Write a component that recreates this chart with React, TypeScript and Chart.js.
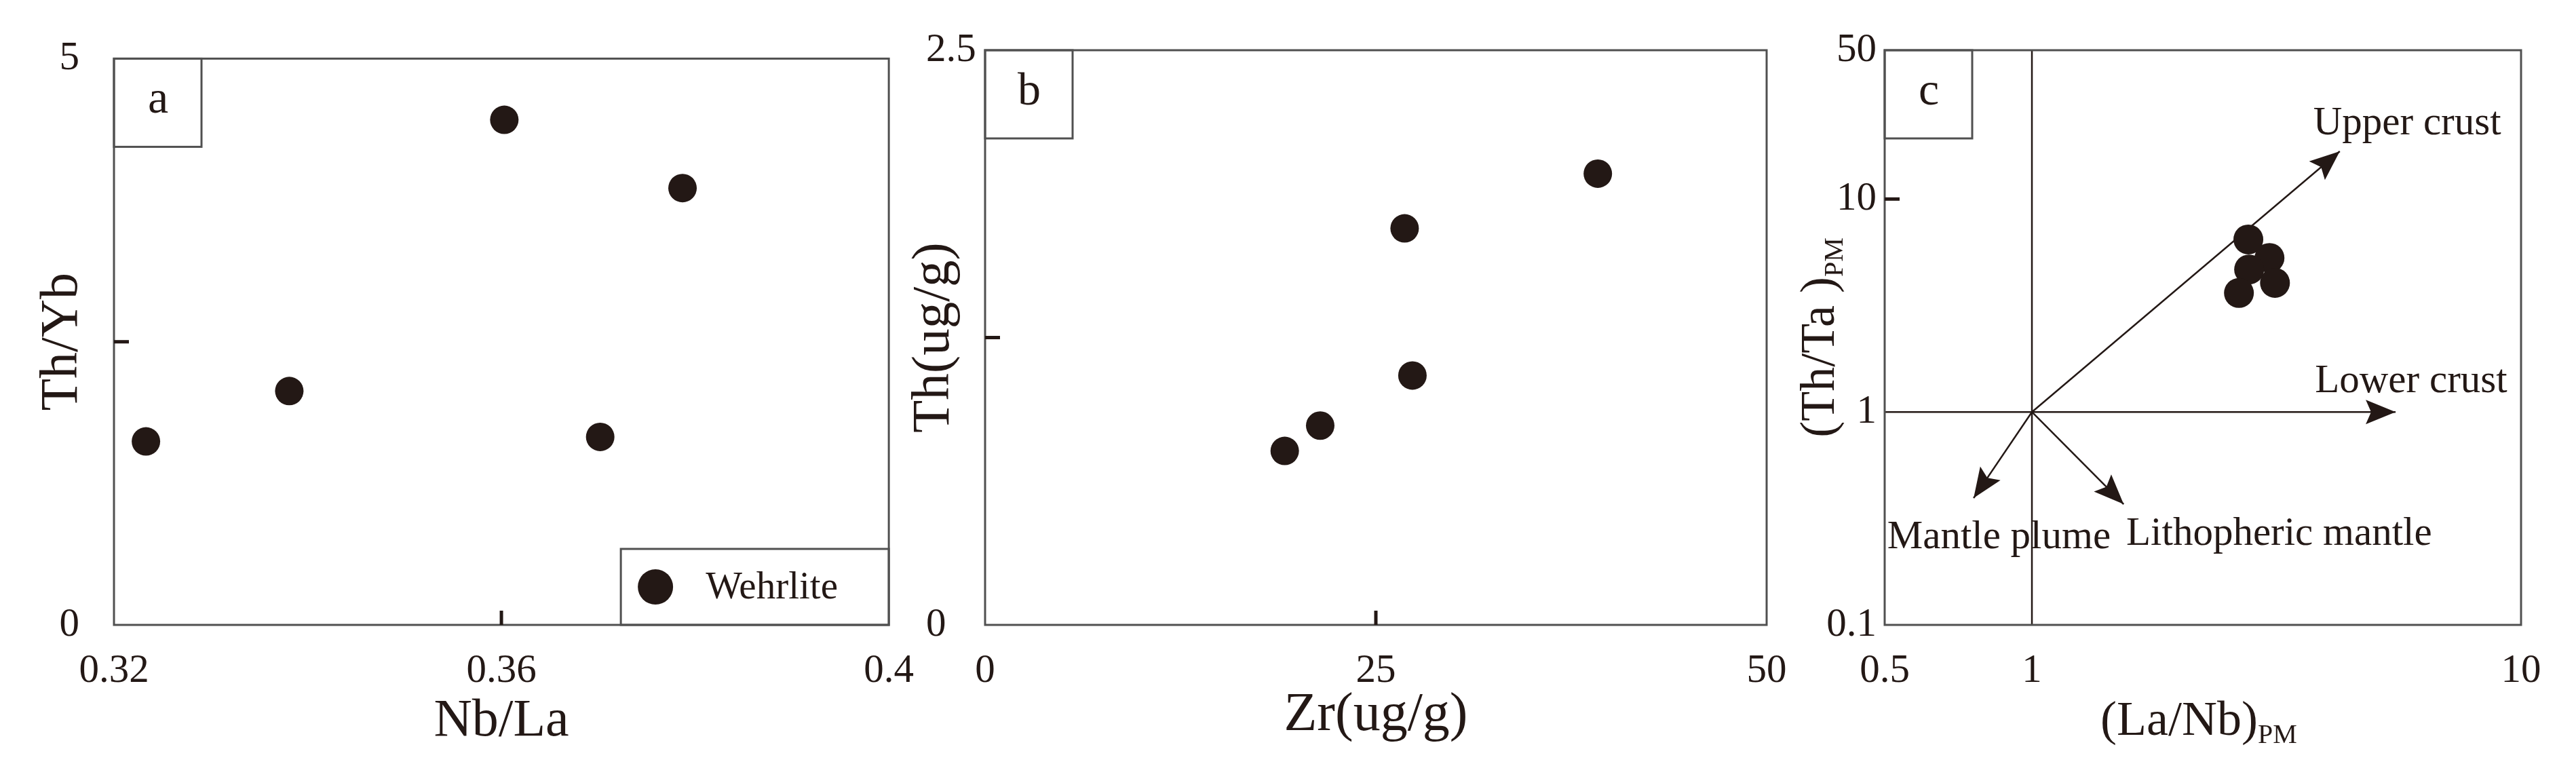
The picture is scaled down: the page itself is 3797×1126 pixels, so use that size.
import React, { useEffect, useRef } from 'react';
import { Chart, registerables } from 'chart.js';

Chart.register(...registerables);

const FONT = '"Liberation Serif", "Times New Roman", serif';
const INK = '#231815';
const FRAME = '#505050';

// ---------- Panel a : Nb/La vs Th/Yb ----------
const aNbLa = [0.3233, 0.3381, 0.3603, 0.3702, 0.3787];
const aThYb = [1.62, 2.065, 4.46, 1.66, 3.857];
const aXTicks = [0.32, 0.36, 0.4];
const aXLabels = ['0.32', '0.36', '0.4'];
const aYTicks = [0, 5];
const aYLabels = ['0', '5'];
const aInnerX = [0.36];
const aInnerY = [2.5];

// ---------- Panel b : Zr vs Th ----------
const bZr = [19.17, 21.44, 26.84, 27.34, 39.2];
const bTh = [0.757, 0.867, 1.725, 1.085, 1.963];
const bXTicks = [0, 25, 50];
const bXLabels = ['0', '25', '50'];
const bYTicks = [0, 2.5];
const bYLabels = ['0', '2.5'];
const bInnerX = [25];
const bInnerY = [1.25];

// ---------- Panel c : (La/Nb)PM vs (Th/Ta)PM ----------
const cLaNb = [2.77, 3.06, 2.78, 3.14, 2.65];
const cThTa = [6.46, 5.29, 4.67, 4.04, 3.62];
const cXTicks = [0.5, 1, 10];
const cXLabels = ['0.5', '1', '10'];
const cYTicks = [0.1, 1, 10, 50];
const cYLabels = ['0.1', '1', '10', '50'];
const cInnerY = [10];
const cOrigin = [1, 1];
const trendNames = ['Upper crust', 'Lower crust', 'Mantle plume', 'Lithopheric mantle'];
const trendEndX = [4.26, 5.54, 0.76, 1.54];
const trendEndY = [16.76, 1, 0.394, 0.369];
const trendLabelX = [3.76, 3.79, 0.506, 1.559];
const trendLabelY = [20.1, 1.24, 0.229, 0.238];

const SERIES_NAME = 'Wehrlite';

function font(size: number) {
  return `${size}px ${FONT}`;
}

function drawTitle(ctx: any, t: any, ca: any) {
  const x = t.relX === 'center' ? (ca.left + ca.right) / 2 + (t.dx || 0) : ca.left + t.relX;
  const y = t.relY === 'center' ? (ca.top + ca.bottom) / 2 + (t.dy || 0) : ca.bottom + t.relY;
  ctx.save();
  ctx.translate(x, y);
  if (t.rotate) ctx.rotate(-Math.PI / 2);
  ctx.fillStyle = INK;
  ctx.textBaseline = 'alphabetic';
  ctx.font = font(t.size);
  const w1 = ctx.measureText(t.text).width;
  let w2 = 0;
  if (t.sub) {
    ctx.font = font(t.subSize);
    w2 = ctx.measureText(t.sub).width;
  }
  const start = t.align === 'left' ? 0 : -(w1 + w2) / 2;
  ctx.textAlign = 'left';
  ctx.font = font(t.size);
  ctx.fillText(t.text, start, 0);
  if (t.sub) {
    ctx.font = font(t.subSize);
    ctx.fillText(t.sub, start + w1, t.subShift);
  }
  ctx.restore();
}

const decor = {
  id: 'decor',
  afterDraw(chart: any, _args: any, o: any) {
    const ctx = chart.ctx;
    const ca = chart.chartArea;
    const xs = chart.scales.x;
    const ys = chart.scales.y;
    ctx.save();

    // arrow heads on trend lines
    (o.arrows || []).forEach((idx: number) => {
      const pts = chart.getDatasetMeta(idx).data;
      const p0 = pts[pts.length - 2];
      const p1 = pts[pts.length - 1];
      const ang = Math.atan2(p1.y - p0.y, p1.x - p0.x);
      const L = 44;
      const W = 18;
      const c = Math.cos(ang);
      const s = Math.sin(ang);
      ctx.beginPath();
      ctx.moveTo(p1.x, p1.y);
      ctx.lineTo(p1.x - L * c - W * s, p1.y - L * s + W * c);
      ctx.lineTo(p1.x - L * c * 0.82, p1.y - L * s * 0.82);
      ctx.lineTo(p1.x - L * c + W * s, p1.y - L * s - W * c);
      ctx.closePath();
      ctx.fillStyle = INK;
      ctx.fill();
    });

    // frame
    ctx.strokeStyle = FRAME;
    ctx.lineWidth = 3;
    ctx.strokeRect(ca.left, ca.top, ca.right - ca.left, ca.bottom - ca.top);

    // inward tick marks
    ctx.strokeStyle = INK;
    ctx.lineWidth = 5;
    (o.innerX || []).forEach((v: number) => {
      const px = xs.getPixelForValue(v);
      ctx.beginPath();
      ctx.moveTo(px, ca.bottom);
      ctx.lineTo(px, ca.bottom - 21);
      ctx.stroke();
    });
    (o.innerY || []).forEach((v: number) => {
      const py = ys.getPixelForValue(v);
      ctx.beginPath();
      ctx.moveTo(ca.left, py);
      ctx.lineTo(ca.left + 22, py);
      ctx.stroke();
    });

    // panel letter box
    ctx.strokeStyle = FRAME;
    ctx.lineWidth = 3;
    ctx.strokeRect(ca.left, ca.top, 129, 130);
    ctx.fillStyle = INK;
    ctx.font = font(68);
    ctx.textAlign = 'center';
    ctx.textBaseline = 'middle';
    ctx.fillText(o.letter, ca.left + 65, ca.top + 62);

    // axis titles
    (o.titles || []).forEach((t: any) => drawTitle(ctx, t, ca));

    // text annotations at data coordinates
    if (o.notes) {
      ctx.fillStyle = INK;
      ctx.font = font(o.notes.size);
      ctx.textAlign = 'left';
      ctx.textBaseline = 'alphabetic';
      o.notes.names.forEach((n: string, i: number) => {
        ctx.fillText(n, xs.getPixelForValue(o.notes.xs[i]), ys.getPixelForValue(o.notes.ys[i]));
      });
    }

    // legend
    if (o.legend) {
      const ds = chart.data.datasets[0];
      const w = 395;
      const h = 112;
      const lx = ca.right - w;
      const ly = ca.bottom - h;
      ctx.strokeStyle = FRAME;
      ctx.lineWidth = 3;
      ctx.strokeRect(lx, ly, w, h);
      ctx.fillStyle = ds.backgroundColor;
      ctx.beginPath();
      ctx.arc(lx + 51, ly + 56, 26, 0, Math.PI * 2);
      ctx.fill();
      ctx.fillStyle = INK;
      ctx.font = font(57);
      ctx.textAlign = 'left';
      ctx.textBaseline = 'alphabetic';
      ctx.fillText(ds.label, lx + 125, ly + 73);
    }
    ctx.restore();
  },
};

function axis(type: string, min: number, max: number, ticks: number[], labels: string[], extra: any) {
  return {
    type,
    min,
    max,
    grid: { display: false, drawTicks: false },
    border: { display: false },
    ticks: {
      font: { family: FONT, size: 59 },
      color: INK,
      autoSkip: false,
      maxRotation: 0,
      minRotation: 0,
      padding: extra.padding,
      crossAlign: extra.crossAlign || 'near',
      callback: (_v: any, i: number) => labels[i],
    },
    afterBuildTicks: (s: any) => {
      s.ticks = ticks.map((v) => ({ value: v }));
    },
    afterFit: (s: any) => {
      if (extra.height !== undefined) s.height = extra.height;
      if (extra.width !== undefined) s.width = extra.width;
    },
  };
}

function baseOptions(padLeft: number, padRight: number, xAxis: any, yAxis: any, decorOpts: any) {
  return {
    responsive: false,
    animation: false,
    events: [],
    layout: { padding: { left: padLeft, top: 74, right: padRight, bottom: 0 } },
    plugins: {
      legend: { display: false },
      tooltip: { enabled: false },
      decor: decorOpts,
    },
    scales: { x: xAxis, y: yAxis },
  };
}

function pointsDataset(xv: number[], yv: number[], r: number) {
  return {
    label: SERIES_NAME,
    data: xv.map((x, i) => ({ x, y: yv[i] })),
    backgroundColor: INK,
    borderColor: INK,
    borderWidth: 0,
    pointRadius: r,
    pointHoverRadius: r,
  };
}

function lineDataset(pts: { x: number; y: number }[], width: number) {
  return {
    label: '',
    data: pts,
    showLine: true,
    borderColor: INK,
    borderWidth: width,
    pointRadius: 0,
    pointHoverRadius: 0,
    fill: false,
  };
}

const X_H = 205;

function configA(): any {
  return {
    type: 'scatter',
    data: { datasets: [pointsDataset(aNbLa, aThYb, 21)] },
    options: baseOptions(
      0,
      68,
      axis('linear', 0.32, 0.4, aXTicks, aXLabels, { padding: 33, height: X_H }),
      axis('linear', 0, 5, aYTicks, aYLabels, { padding: 51, width: 168 }),
      {
        letter: 'a',
        innerX: aInnerX,
        innerY: aInnerY,
        legend: true,
        titles: [
          { text: 'Nb/La', size: 78, relX: 'center', relY: 163 },
          { text: 'Th/Yb', size: 78, relX: -55, relY: 'center', rotate: true },
        ],
      }
    ),
    plugins: [decor],
  };
}

function configB(): any {
  return {
    type: 'scatter',
    data: { datasets: [pointsDataset(bZr, bTh, 21)] },
    options: baseOptions(
      45,
      76,
      axis('linear', 0, 50, bXTicks, bXLabels, { padding: 33, height: X_H }),
      axis('linear', 0, 2.5, bYTicks, bYLabels, { padding: 17, width: 87, crossAlign: 'far' }),
      {
        letter: 'b',
        innerX: bInnerX,
        innerY: bInnerY,
        titles: [
          { text: 'Zr(ug/g)', size: 80, relX: 'center', relY: 155 },
          { text: 'Th(ug/g)', size: 79, relX: -54, relY: 'center', rotate: true },
        ],
      }
    ),
    plugins: [decor],
  };
}

function configC(): any {
  const origin = { x: cOrigin[0], y: cOrigin[1] };
  const refLines = [
    lineDataset([{ x: 1, y: 0.1 }, { x: 1, y: 50 }], 2.5),
    lineDataset([{ x: 0.5, y: 1 }, origin], 2.5),
  ];
  const trends = trendNames.map((_n, i) => lineDataset([origin, { x: trendEndX[i], y: trendEndY[i] }], 2.5));
  const datasets = [pointsDataset(cLaNb, cThTa, 22), ...refLines, ...trends];
  return {
    type: 'scatter',
    data: { datasets },
    options: baseOptions(
      0,
      81,
      axis('logarithmic', 0.5, 10, cXTicks, cXLabels, { padding: 33, height: X_H }),
      axis('logarithmic', 0.1, 50, cYTicks, cYLabels, { padding: 12, width: 178 }),
      {
        letter: 'c',
        innerY: cInnerY,
        arrows: trends.map((_t, i) => 3 + i),
        notes: { names: trendNames, xs: trendLabelX, ys: trendLabelY, size: 59 },
        titles: [
          { text: '(La/Nb)', sub: 'PM', size: 72, subSize: 40, subShift: 12, relX: 318, relY: 162, align: 'left' },
          { text: '(Th/Ta )', sub: 'PM', size: 72, subSize: 40, subShift: 13, relX: -75, relY: 'center', rotate: true },
        ],
      }
    ),
    plugins: [decor],
  };
}

export default function App() {
  const ra = useRef<HTMLCanvasElement | null>(null);
  const rb = useRef<HTMLCanvasElement | null>(null);
  const rc = useRef<HTMLCanvasElement | null>(null);

  useEffect(() => {
    document.body.style.margin = '0';
    const charts = [
      new Chart(ra.current as HTMLCanvasElement, configA()),
      new Chart(rb.current as HTMLCanvasElement, configB()),
      new Chart(rc.current as HTMLCanvasElement, configC()),
    ];
    return () => charts.forEach((c) => c.destroy());
  }, []);

  const cs = (left: number, width: number): React.CSSProperties => ({
    position: 'absolute',
    left,
    top: 0,
    width,
    height: 1126,
  });

  return (
    <div style={{ position: 'relative', width: 3797, height: 1126, overflow: 'hidden', background: '#ffffff' }}>
      <canvas ref={ra} width={1380} height={1126} style={cs(0, 1380)} />
      <canvas ref={rb} width={1360} height={1126} style={cs(1320, 1360)} />
      <canvas ref={rc} width={1197} height={1126} style={cs(2600, 1197)} />
    </div>
  );
}
